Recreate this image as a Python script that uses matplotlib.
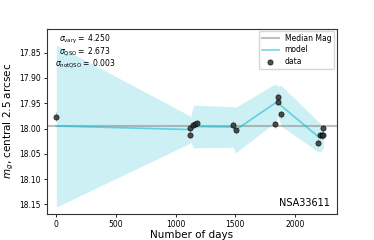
import numpy as np
import matplotlib
matplotlib.use("Agg")
import matplotlib.pyplot as plt

# observed photometry (days, mag, error)
data_t = [0, 1120, 1122, 1148, 1159, 1176, 1480, 1502, 1832, 1858, 1859, 1884,
          2194, 2208, 2222, 2236, 2237]
data_mag = [17.977, 17.999, 18.012, 17.9935, 17.9915, 17.990, 17.993, 18.003,
            17.992, 17.937, 17.947, 17.972, 18.028, 18.013, 18.013, 18.013, 17.9994]
data_err = [0.009, 0.007, 0.007, 0.007, 0.007, 0.007, 0.007, 0.007,
            0.007, 0.007, 0.007, 0.007, 0.007, 0.007, 0.007, 0.007, 0.007]

# model curve and its uncertainty
model_t = [0, 1120, 1122, 1148, 1159, 1176, 1480, 1502, 1832, 1858, 1859, 1884,
           2194, 2208, 2222, 2236]
model_mag = [17.995, 18.002, 18.002, 17.997, 17.996, 17.996, 17.997, 18.003,
             17.950, 17.946, 17.946, 17.955, 18.016, 18.018, 18.019, 18.020]
model_err = [0.160, 0.027, 0.022, 0.042, 0.042, 0.042, 0.040, 0.045,
             0.038, 0.030, 0.030, 0.040, 0.030, 0.028, 0.025, 0.020]

median_mag = 17.9955
sigma_labels = [r"$\sigma_{\rm vary}=$ 4.250", r"$\sigma_{\rm QSO}=$ 2.673",
                r"$\sigma_{\rm notQSO}=$ 0.003"]
name = "NSA33611"

fig, ax = plt.subplots(figsize=(3.74, 2.40), dpi=100)
fig.subplots_adjust(left=0.125, right=0.9, top=0.88, bottom=0.11)

mt = np.array(model_t)
mm = np.array(model_mag)
me = np.array(model_err)

ax.axhline(median_mag, color="0.5", alpha=0.5, lw=1.5, label="Median Mag")
ax.plot(mt, mm, color="#17becf", alpha=0.6, lw=1.2, label="model")
ax.fill_between(mt, mm - me, mm + me, color="#17becf", alpha=0.22, lw=0)
ax.errorbar(data_t, data_mag, yerr=data_err, fmt="none", ecolor="0.6",
            elinewidth=0.8, alpha=0.6)
ax.scatter(data_t, data_mag, s=14, color="#333333", edgecolor="black",
           linewidth=0.5, alpha=0.85, zorder=5, label="data")

ax.set_xlim(-80, 2348)
ax.set_ylim(18.168, 17.803)
ax.set_xticks([0, 500, 1000, 1500, 2000])
ax.set_yticks([17.85, 17.90, 17.95, 18.00, 18.05, 18.10, 18.15])
ax.tick_params(labelsize=5.5, length=2.5, width=0.6, pad=2)
for s in ax.spines.values():
    s.set_linewidth(0.8)
    s.set_color("#333333")

ax.set_xlabel("Number of days", fontsize=7.5, labelpad=1)
ax.set_ylabel(r"$m_g$, central 2.5 arcsec", fontsize=7.5, labelpad=2)

ys = [0.944, 0.875, 0.812]
for lab, y in zip(sigma_labels, ys):
    ax.text(0.132, y, lab, transform=ax.transAxes, ha="center", va="center",
            fontsize=5.5)
ax.text(0.977, 0.056, name, transform=ax.transAxes, ha="right", va="center",
        fontsize=7)

leg = ax.legend(loc="upper right", fontsize=5.5, frameon=True,
                borderpad=0.4, handlelength=2.2, labelspacing=0.3,
                borderaxespad=0.3, fancybox=True)

fig.savefig("out.png", dpi=100)
